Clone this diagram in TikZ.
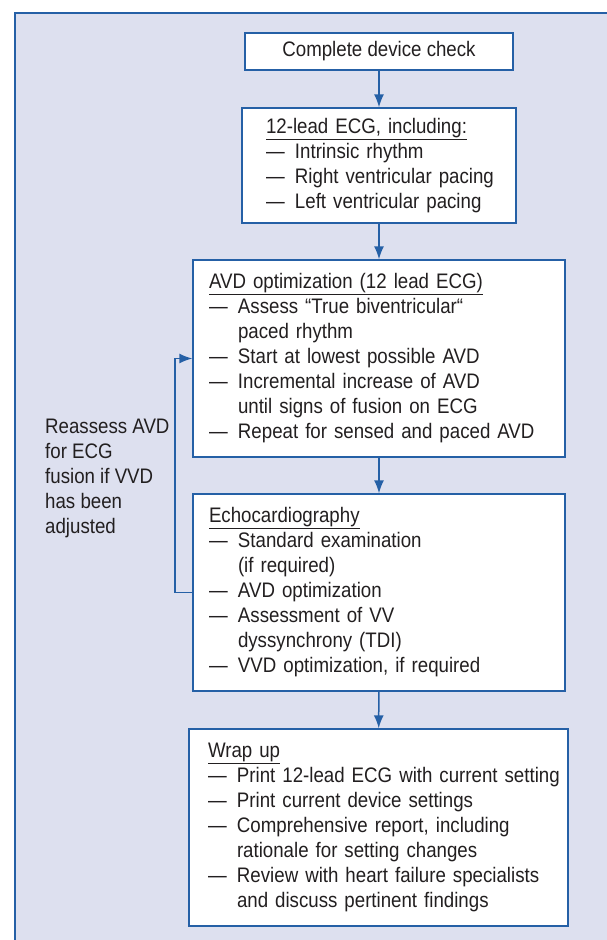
\documentclass[tikz,border=0pt]{standalone}
\usepackage{fontspec}
\setmainfont{Liberation Sans}[FakeStretch=0.89]
\usepackage{tikz}
\usetikzlibrary{arrows.meta}

\definecolor{panel}{HTML}{DDE0EF}
\definecolor{edge}{HTML}{2560A6}
\definecolor{ink}{HTML}{221F20}

\newcommand{\itm}[1]{\makebox[29pt][l]{—}\mbox{#1}}
\newcommand{\cont}[1]{\hspace*{29pt}\mbox{#1}}

\begin{document}
\begin{tikzpicture}[x=1pt,y=-1pt]
    \tikzstyle{every node}+=[inner sep=0pt, text=ink, font=\fontsize{21}{25}\selectfont]
    \tikzstyle{box}=[draw=edge, line width=1.4pt, fill=white, align=left, inner ysep=0pt]
    \tikzstyle{link}=[draw=edge, line width=1.5pt, -{Latex[length=13pt,width=10pt]}]
    \useasboundingbox (0,0) rectangle (606,940);
    \draw [edge, line width=2pt, fill=panel] (15,13) rectangle (640,980);
    \node [box, minimum width=268pt, minimum height=37pt, align=center] (check) at (379,51.5) {Complete device check};
    \node [box, text width=226pt, inner xsep=24pt, minimum height=115pt] (ecg) at (379,165.5) {\underline{12-lead ECG, including:}\\
        \itm{Intrinsic rhythm}\\
        \itm{Right ventricular pacing}\\
        \itm{Left ventricular pacing}};
    \node [box, text width=340pt, inner xsep=16pt, minimum height=197pt] (avd) at (379,358.5) {\underline{AVD optimization (12 lead ECG)}\\
        \itm{Assess “True biventricular“}\\
        \cont{paced rhythm}\\
        \itm{Start at lowest possible AVD}\\
        \itm{Incremental increase of AVD}\\
        \cont{until signs of fusion on ECG}\\
        \itm{Repeat for sensed and paced AVD}};
    \node [box, text width=340pt, inner xsep=16pt, minimum height=197pt] (echo) at (379,592.5) {\underline{Echocardiography}\\
        \itm{Standard examination}\\
        \cont{(if required)}\\
        \itm{AVD optimization}\\
        \itm{Assessment of VV}\\
        \cont{dyssynchrony (TDI)}\\
        \itm{VVD optimization, if required}};
    \node [box, text width=341pt, inner xsep=19pt, minimum height=197pt] (wrap) at (378.5,827.5) {\underline{Wrap up}\\
        \itm{Print 12-lead ECG with current setting}\\
        \itm{Print current device settings}\\
        \itm{Comprehensive report, including}\\
        \cont{rationale for setting changes}\\
        \itm{Review with heart failure specialists}\\
        \cont{and discuss pertinent findings}};
    \node [align=left, anchor=west] (note) at (45,478) {Reassess AVD\\for ECG\\fusion if VVD\\has been\\adjusted};
    \coordinate (back) at (175,475);
    \draw [link] (check) -- (ecg);
    \draw [link] (ecg) -- (avd);
    \draw [link] (avd) -- (echo);
    \draw [link] (echo) -- (wrap);
    \draw [link] (echo.west) -- (echo.west -| back) -- (avd.west -| back) -- (avd.west);
\end{tikzpicture}
\end{document}
